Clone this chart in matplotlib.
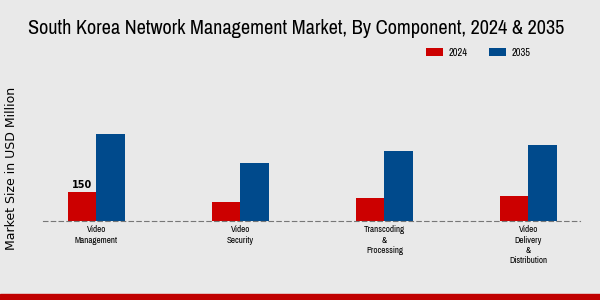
import matplotlib.pyplot as plt
from matplotlib import font_manager
import numpy as np

categories = ["Video\nManagement", "Video\nSecurity", "Transcoding\n&\nProcessing",
              "Video\nDelivery\n&\nDistribution"]
values_2024 = [150, 100, 120, 130]
values_2035 = [450, 300, 360, 390]

names = sorted({f.name for f in font_manager.fontManager.ttflist})
narrow = [n for n in names if 'Narrow' in n or 'Condensed' in n]
fam = narrow[0] if narrow else 'DejaVu Sans'

plt.rcParams['font.family'] = ['DejaVu Sans']

fig = plt.figure(figsize=(6, 3), dpi=100)
fig.patch.set_facecolor('#e9e9e9')

# red strip along the bottom
fig.patches.append(plt.Rectangle((0, 0), 1, 0.02, transform=fig.transFigure,
                                 color='#c00000', zorder=0))

ax = fig.add_axes([0.072, 0.263, 0.895, 0.537])
ax.set_facecolor('none')

x = np.arange(len(categories))
w = 0.2
ax.bar(x - w / 2, values_2024, w, color='#cc0000', label='2024')
ax.bar(x + w / 2, values_2035, w, color='#004a8c', label='2035')
ax.text(x[0] - w / 2, values_2024[0] + 8, str(values_2024[0]), ha='center', va='bottom',
        fontsize=7, fontweight='bold')

ax.set_xlim(-0.37, 3.36)
ax.set_ylim(0, 830)
ax.set_xticks(x)
ax.set_xticklabels(categories, fontsize=6.5, family=[fam, 'DejaVu Sans'])
ax.tick_params(axis='x', length=0, pad=3)
ax.set_yticks([])
for s in ['top', 'right', 'left']:
    ax.spines[s].set_visible(False)
ax.spines['bottom'].set_linestyle((0, (4, 3)))
ax.spines['bottom'].set_color('#777777')
ax.spines['bottom'].set_linewidth(0.8)

fig.text(0.02, 0.437, 'Market Size in USD Million', rotation=90, va='center', ha='center',
         fontsize=9, family='DejaVu Sans')
fig.text(0.494, 0.905, 'South Korea Network Management Market, By Component, 2024 & 2035',
         ha='center', va='center', fontsize=14.6, family=[fam, 'DejaVu Sans'])

ax.legend(loc='center left', bbox_to_anchor=(0.695, 1.045), ncol=2, frameon=False,
          prop={'size': 7.5, 'family': [fam, 'DejaVu Sans']}, handlelength=1.7,
          handleheight=0.7, handletextpad=0.5, columnspacing=2.0)

fig.savefig('out.png', dpi=100, facecolor=fig.get_facecolor())
